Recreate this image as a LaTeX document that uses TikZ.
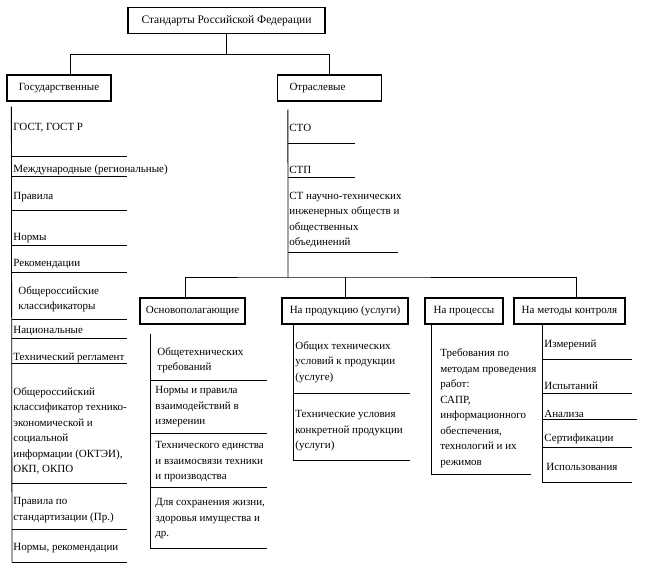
\documentclass[tikz,border=0pt]{standalone}
\usepackage{fontspec}
\setmainfont{Liberation Serif}
\usepackage{tikz}
\usetikzlibrary{positioning}
\usetikzlibrary{calc}
\tikzset{
	box/.style={draw=black, line width=1.3pt, minimum height=26pt, inner xsep=6pt, inner ysep=0pt,
		font=\fontsize{11}{14}\selectfont},
	item/.style={anchor=west, inner sep=0pt, align=left, font=\fontsize{11}{15.5}\selectfont},
}

\begin{document}
\begin{tikzpicture}[x=1pt, y=-1pt, line width=0.8pt]
	\useasboundingbox (0,0) rectangle (646,570);
	% boxes
	\node[box, minimum width=197pt, font=\fontsize{11.5}{14}\selectfont] (std) at (226.5,20.5) {Стандарты Российской Федерации};
	\node[box, minimum width=104pt] (gos) at (59,88) {Государственные};
	\node[box, text width=80pt, inner xsep=12pt, align=left] (otr) at (329.5,88) {Отраслевые};
	\node[box, minimum width=105pt] (osn) at (192.5,311) {Основополагающие};
	\node[box, minimum width=126pt] (prod) at (345,311) {На продукцию (услуги)};
	\node[box, minimum width=78pt] (proc) at (464,311) {На процессы};
	\node[box, minimum width=111pt] (met) at (569.5,311) {На методы контроля};
	%
	\coordinate (top) at ($(std.south)+(0,20)$);
	\coordinate (gosin) at ($(gos.north west)+(64,0)$);
	\draw (std.south) -- (top);
	\draw (gosin) |- (top) -| (otr.north);
	\coordinate (bus) at (288,277);
	\draw ($(otr.south west)+(11,8)$) -- (bus);
	\draw ($(osn.north west)+(46,0)$) |- (bus) -| ($(met.north west)+(63,0)$);
	\draw (prod.north) -- (prod.north |- bus);
	% spines
	\draw ($(gos.south west)+(5,5)$) -- (12,562);
	\draw ($(osn.south west)+(11,9)$) -- ++(0,215);
	\draw ($(prod.south west)+(12,0)$) -- ++(0,136);
	\draw ($(proc.south west)+(7,0)$) -- ++(0,150);
	\draw ($(met.south west)+(29,0)$) -- ++(0,158);
	% rules
	\foreach \y in {156,176,210,245,272,319,338,363,483,529,562}
		\draw (12,\y) -- (127,\y);
	\foreach \y in {143,177}
		\draw (288,\y) -- (355,\y);
	\draw (288,252) -- (398,252);
	\foreach \y in {380,433,487,548}
		\draw (151,\y) -- (267,\y);
	\foreach \y in {393,460}
		\draw (294,\y) -- (410,\y);
	\draw (432,474) -- (531,474);
	\foreach \y/\x in {359/632,393/632,419/637,447/632,482/632}
		\draw (543,\y) -- (\x,\y);
	% state standards
	\node[item] (g1) at (13,128) {ГОСТ, ГОСТ Р};
	\node[item] (g2) at (13,170) {Международные (региональные)};
	\node[item] (g3) at (13,197) {Правила};
	\node[item] (g4) at (13,238) {Нормы};
	\node[item] (g5) at (13,264) {Рекомендации};
	\node[item] (g6) at (18,299) {Общероссийские\\классификаторы};
	\node[item] (g7) at (13,331) {Национальные};
	\node[item] (g8) at (13,358) {Технический регламент};
	\node[item] (g9) at (13,431) {Общероссийский\\классификатор технико-\\экономической и\\социальной\\информации (ОКТЭИ),\\ОКП, ОКПО};
	\node[item] (g10) at (13,510) {Правила по\\стандартизации (Пр.)};
	\node[item] (g11) at (13,548) {Нормы, рекомендации};
	% branch standards
	\node[item] (o1) at (289,128) {СТО};
	\node[item] (o2) at (289,170) {СТП};
	\node[item] (o3) at (289,220) {СТ научно-технических\\инженерных обществ и\\общественных\\объединений};
	%
	\node[item] (n1) at (157,360) {Общетехнических\\требований};
	\node[item] (n2) at (155,407) {Нормы и правила\\взаимодействий в\\измерении};
	\node[item] (n3) at (155,462) {Технического единства\\и взаимосвязи техники\\и производства};
	\node[item] (n4) at (155,519) {Для сохранения жизни,\\здоровья имущества и\\др.};
	%
	\node[item] (p1) at (295,362) {Общих технических\\условий к продукции\\(услуге)};
	\node[item] (p2) at (295,431) {Технические условия\\конкретной продукции\\(услуги)};
	%
	\node[item] (r1) at (440,408) {Требования по\\методам проведения\\работ:\\САПР,\\информационного\\обеспечения,\\технологий и их\\режимов};
	%
	\node[item] (m1) at (544,345) {Измерений};
	\node[item] (m2) at (544,386) {Испытаний};
	\node[item] (m3) at (544,414) {Анализа};
	\node[item] (m4) at (544,439) {Сертификации};
	\node[item] (m5) at (546,467) {Использования};
\end{tikzpicture}
\end{document}
